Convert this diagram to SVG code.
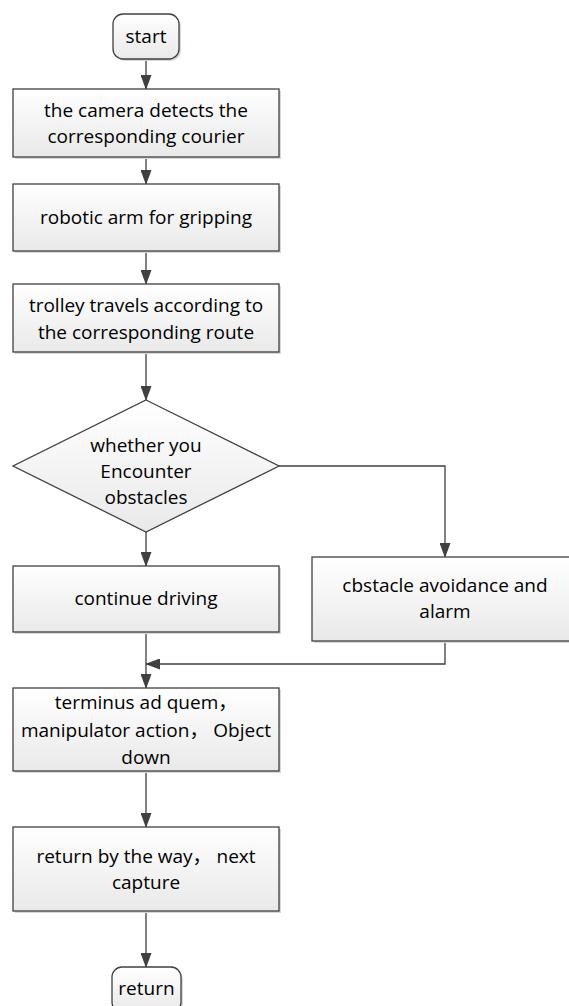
<svg xmlns="http://www.w3.org/2000/svg" width="569" height="1006" viewBox="0 0 569 1006">
<defs>
<linearGradient id="g" x1="0" y1="0" x2="0" y2="1">
<stop offset="0" stop-color="#ffffff"/>
<stop offset="1" stop-color="#e9e9e9"/>
</linearGradient>
<marker id="ahd" markerWidth="15" markerHeight="11" refX="14" refY="5.5" orient="auto" markerUnits="userSpaceOnUse">
<path d="M0,0 L15,5.5 L0,11 Z" fill="#404040"/>
</marker>
</defs>
<style>
.n{fill:url(#g);stroke:#404040;stroke-width:1.3}
.sh{fill:#d8d8d8;stroke:none}
.t{font-family:"Open Sans","Noto Sans CJK SC",sans-serif;font-size:19px;fill:#000;text-anchor:middle}
.c{fill:none;stroke:#404040;stroke-width:1.3;marker-end:url(#ahd)}
</style>
<rect width="569" height="1006" fill="#fff"/>
<g id="connectors">
<path class="c" d="M146,59 V89"/>
<path class="c" d="M146,157 V184"/>
<path class="c" d="M146,251 V284"/>
<path class="c" d="M146,352 V400"/>
<path class="c" d="M146,532 V566"/>
<path class="c" d="M279,466 H445 V557"/>
<path class="c" d="M146,632 V688"/>
<path class="c" d="M445,641 V664 H146"/>
<path class="c" d="M146,771 V827"/>
<path class="c" d="M146,911 V967"/>
</g>
<g id="start">
<rect class="sh" x="115" y="16" width="66" height="45" rx="10"/>
<rect class="n" x="113" y="14" width="66" height="45" rx="10"/>
<text class="t" x="146" y="43">start</text>
</g>
<g id="detect">
<rect class="sh" x="15" y="91" width="266" height="68"/>
<rect class="n" x="13" y="89" width="266" height="68"/>
<text class="t" x="146" y="117">the camera detects the</text>
<text class="t" x="146" y="143">corresponding courier</text>
</g>
<g id="grip">
<rect class="sh" x="15" y="186" width="266" height="67"/>
<rect class="n" x="13" y="184" width="266" height="67"/>
<text class="t" x="146" y="224">robotic arm for gripping</text>
</g>
<g id="travel">
<rect class="sh" x="15" y="286" width="266" height="68"/>
<rect class="n" x="13" y="284" width="266" height="68"/>
<text class="t" x="146" y="312">trolley travels according to</text>
<text class="t" x="146" y="339">the corresponding route</text>
</g>
<g id="decision">
<polygon class="n" points="146,400 279,466 146,532 13,466"/>
<text class="t" x="146" y="452">whether you</text>
<text class="t" x="146" y="478">Encounter</text>
<text class="t" x="146" y="504">obstacles</text>
</g>
<g id="continue">
<rect class="sh" x="15" y="568" width="266" height="66"/>
<rect class="n" x="13" y="566" width="266" height="66"/>
<text class="t" x="146" y="605">continue driving</text>
</g>
<g id="avoid">
<rect class="sh" x="314" y="559" width="266" height="84"/>
<rect class="n" x="312" y="557" width="266" height="84"/>
<text class="t" x="445" y="592">cbstacle avoidance and</text>
<text class="t" x="445" y="618">alarm</text>
</g>
<g id="terminus">
<rect class="sh" x="15" y="690" width="266" height="83"/>
<rect class="n" x="13" y="688" width="266" height="83"/>
<text class="t" x="146" y="709">terminus ad quem，</text>
<text class="t" x="146" y="737">manipulator action， Object</text>
<text class="t" x="146" y="764">down</text>
</g>
<g id="returnway">
<rect class="sh" x="15" y="829" width="266" height="84"/>
<rect class="n" x="13" y="827" width="266" height="84"/>
<text class="t" x="146" y="863">return by the way， next</text>
<text class="t" x="146" y="889">capture</text>
</g>
<g id="return">
<rect class="sh" x="114" y="969" width="69" height="45" rx="10"/>
<rect class="n" x="112" y="967" width="69" height="45" rx="10"/>
<text class="t" x="146.5" y="995">return</text>
</g>
</svg>
